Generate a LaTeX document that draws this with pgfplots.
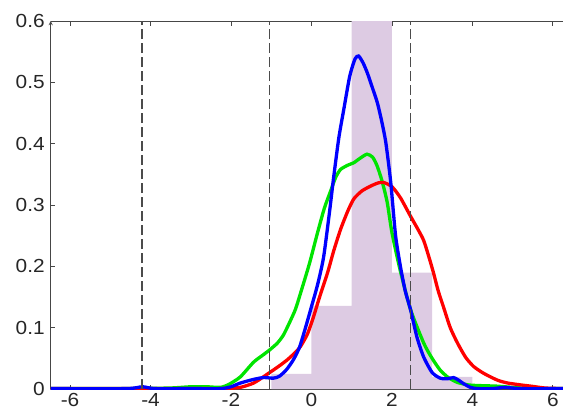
\documentclass[border=0pt]{standalone}
\usepackage{pgfplots}
\pgfplotsset{compat=1.18}
\usepackage{fontspec}
\setmainfont{Liberation Sans}
\definecolor{lav}{RGB}{221,203,227}
\definecolor{grn}{RGB}{0,228,0}
\definecolor{axgray}{RGB}{70,70,70}
\definecolor{dashgray}{RGB}{75,75,75}
\begin{document}
\begin{tikzpicture}
  \begin{axis}[
    scale only axis,
    width=512bp, height=368bp,
    xmin=-6.48, xmax=6.25,
    ymin=0, ymax=0.6,
    axis x line=box,
    axis y line=left,
    axis line style={axgray, line width=0.9bp},
    xtick={-6,-4,...,6},
    ytick={0,0.1,...,0.6},
    yticklabels={0,0.1,0.2,0.3,0.4,0.5,0.6},
    tick align=inside,
    major tick length=4.5bp,
    tick style={axgray, line width=0.9bp},
    every tick label/.append style={font=\fontsize{19}{20}\selectfont, text=black!85, xscale=1.1},
    /pgf/number format/assume math mode=true,
    xticklabel style={yshift=-1bp},
    yticklabel style={xshift=-2bp},
    clip=true,
  ]
    % histogram
    \addplot[ybar interval, fill=lav, draw=none] coordinates {
      (-1,0.025) (0,0.136) (1,0.65) (2,0.19) (3,0.02) (4,0.02)};

    % green
    \addplot[grn, line width=3.3bp, smooth, tension=0.4] coordinates {
      (-6.48,0.001)(-4.5,0.001)(-3.5,0.002)(-3,0.004)(-2.6,0.004)(-2.26,0.003)
      (-2.05,0.008)(-1.77,0.02)(-1.44,0.044)(-1.2,0.056)(-1.04,0.064)(-0.85,0.075)
      (-0.70,0.088)(-0.55,0.108)(-0.40,0.13)(-0.27,0.157)(-0.05,0.205)(0.15,0.255)
      (0.32,0.295)(0.47,0.322)(0.6,0.345)(0.72,0.358)(0.9,0.365)(1.05,0.369)
      (1.2,0.376)(1.38,0.383)(1.52,0.378)(1.63,0.364)(1.75,0.34)(1.88,0.305)
      (2.0,0.255)(2.2,0.195)(2.46,0.13)(2.79,0.075)(3.0,0.05)(3.2,0.031)
      (3.4,0.019)(3.63,0.011)(3.9,0.007)(4.13,0.006)(4.6,0.005)(5,0.003)
      (5.5,0.001)(6.25,0.001)};

    % red
    \addplot[red, line width=3.3bp, smooth, tension=0.4] coordinates {
      (-6.48,0.001)(-3,0.001)(-2.2,0.001)(-1.77,0.003)(-1.44,0.01)(-1.2,0.02)
      (-1.02,0.028)(-0.8,0.038)(-0.6,0.048)(-0.4,0.06)(-0.27,0.07)(-0.1,0.09)
      (0.05,0.118)(0.2,0.15)(0.4,0.19)(0.55,0.225)(0.72,0.26)(0.9,0.29)
      (1.05,0.31)(1.25,0.323)(1.47,0.331)(1.65,0.336)(1.79,0.337)(2.0,0.33)
      (2.21,0.312)(2.46,0.282)(2.65,0.26)(2.79,0.242)(2.92,0.215)(3.03,0.19)
      (3.15,0.16)(3.28,0.134)(3.45,0.1)(3.63,0.075)(3.83,0.052)(4.03,0.037)
      (4.25,0.027)(4.45,0.02)(4.65,0.014)(4.88,0.01)(5.2,0.007)(5.45,0.005)
      (5.8,0.002)(6.25,0.001)};

    % blue
    \addplot[blue, line width=3.3bp, smooth, tension=0.4] coordinates {
      (-6.48,0.001)(-4.6,0.001)(-4.2,0.004)(-3.9,0.001)(-3,0.001)(-2.26,0.001)
      (-2.0,0.004)(-1.77,0.01)(-1.44,0.016)(-1.19,0.019)(-0.95,0.018)(-0.80,0.021)
      (-0.62,0.032)(-0.45,0.048)(-0.30,0.068)(-0.15,0.1)(-0.02,0.13)(0.15,0.17)
      (0.30,0.215)(0.45,0.29)(0.55,0.345)(0.68,0.41)(0.80,0.455)(0.95,0.51)
      (1.08,0.538)(1.17,0.543)(1.28,0.532)(1.39,0.515)(1.52,0.49)(1.64,0.466)
      (1.75,0.435)(1.84,0.405)(1.92,0.365)(1.98,0.33)(2.09,0.25)(2.21,0.2)
      (2.33,0.16)(2.46,0.13)(2.62,0.085)(2.79,0.052)(3.0,0.027)(3.2,0.018)
      (3.38,0.017)(3.53,0.019)(3.65,0.015)(3.78,0.009)(3.95,0.003)(4.13,0.001)
      (4.5,0.001)(4.8,0.003)(5.2,0.001)(6.25,0.001)};

    % dashed markers
    \addplot[dashgray, line width=1.3bp, dash pattern=on 10bp off 4bp] coordinates {(-4.21,0) (-4.21,0.6)};
    \addplot[dashgray, line width=1.3bp, dash pattern=on 10bp off 4bp] coordinates {(-1.04,0) (-1.04,0.6)};
    \addplot[dashgray, line width=1.3bp, dash pattern=on 10bp off 4bp] coordinates {(2.46,0) (2.46,0.6)};
  \end{axis}
  \pgfresetboundingbox
  \path[use as bounding box] ([xshift=-50.7bp,yshift=-28bp]current axis.south west)
    rectangle ([yshift=21bp]current axis.north east);
\end{tikzpicture}
\end{document}
